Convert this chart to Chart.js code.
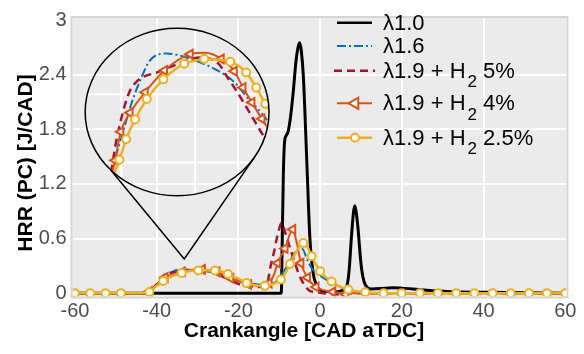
<!DOCTYPE html>
<html>
<head>
<meta charset="utf-8">
<script src="https://cdn.jsdelivr.net/npm/chart.js@4.4.1/dist/chart.umd.min.js"></script>
<style>
html, body { margin: 0; padding: 0; background: #fff; }
#wrap { width: 584px; height: 354px; }
</style>
</head>
<body>
<div id="wrap"><canvas id="hrrChart" width="584" height="354"></canvas></div>
<script>
// crank angle [CAD aTDC] / HRR [J/CAD]
const lam10X = [-60, -9.5, -9.3, -9.0, -8.7, -8.3, -7.8, -7.2, -6.6, -5.9, -5.4, -5.0, -4.6, -4.1, -3.3, -2.5, -1.7, -0.9, 0, 2.0, 4.0, 5.5, 6.5, 7.1, 7.7, 8.2, 8.5, 8.8, 9.3, 9.8, 10.2, 10.8, 11.6, 12.5, 15.0, 17.5, 20.0, 24.0, 28.0, 32.0, 40.0, 50.0, 60.0];
const lam10Y = [0, 0, 0.5, 1.3, 1.66, 1.73, 1.78, 1.95, 2.2, 2.55, 2.7, 2.75, 2.66, 2.38, 1.5, 0.6, 0.22, 0.09, 0.035, 0.018, 0.014, 0.03, 0.07, 0.25, 0.64, 0.9, 0.96, 0.9, 0.7, 0.42, 0.25, 0.12, 0.06, 0.045, 0.05, 0.06, 0.055, 0.04, 0.025, 0.015, 0.01, 0.005, 0];

const lam16X = [-60, -42.5, -41.3, -40.16, -38.9, -37.72, -36.5, -35.49, -33.45, -31.01, -27.77, -25.33, -23.29, -21.67, -20, -18, -16, -14, -12.5, -11, -9.5, -8, -7, -6, -4.8, -4.2, -3.1, -1.5, 0, 1.8, 3.5, 5.1, 7, 9, 12, 15, 60];
const lam16Y = [0, 0, 0.03, 0.088, 0.14, 0.188, 0.226, 0.25, 0.26, 0.254, 0.238, 0.219, 0.19, 0.169, 0.14, 0.115, 0.1, 0.09, 0.1, 0.12, 0.2, 0.3, 0.38, 0.46, 0.49, 0.48, 0.36, 0.24, 0.19, 0.14, 0.1, 0.065, 0.035, 0.015, 0.003, 0, 0];

const h5X = [-60, -42, -41, -40.16, -39.55, -38.13, -37.1, -34.48, -33.05, -29.39, -27.16, -26.13, -24.91, -23.7, -22.68, -21.26, -20, -18, -16, -14, -13, -12.1, -11.3, -10.5, -9.4, -8.5, -7.6, -6.5, -5.3, -4, -2.7, -1.4, 0, 2, 4, 6, 8, 60];
const h5Y = [0, 0, 0.04, 0.092, 0.135, 0.2, 0.219, 0.233, 0.24, 0.254, 0.245, 0.226, 0.204, 0.18, 0.159, 0.13, 0.1, 0.08, 0.068, 0.07, 0.1, 0.3, 0.45, 0.62, 0.77, 0.66, 0.53, 0.38, 0.22, 0.1, 0.03, 0.012, 0.005, -0.008, -0.012, -0.008, 0, 0];

const h4X = [-60, -56.25, -52.5, -48.75, -44, -41.8, -40.6, -39.76, -39.06, -37.93, -36.1, -33.74, -30.61, -28.8, -26.83, -25.24, -24.18, -23.09, -21.87, -20, -17.5, -15, -14, -12.5, -11.3, -10.4, -8.6, -6.7, -5.7, -4.7, -3.1, -1.0, 1.0, 3.1, 5.0, 6.3, 7.9, 11.05, 15.5, 19.95, 24.4, 28.85, 33.3, 37.75, 42.2, 46.65, 51.1, 55.55, 60];
const h4Y = [0, 0, 0, 0, 0, 0.02, 0.06, 0.103, 0.145, 0.173, 0.203, 0.235, 0.259, 0.261, 0.252, 0.234, 0.21, 0.188, 0.164, 0.13, 0.095, 0.078, 0.076, 0.11, 0.2, 0.33, 0.49, 0.70, 0.55, 0.33, 0.17, 0.067, 0.03, 0.014, 0, -0.015, 0, 0, 0, 0, 0, 0, 0, 0, 0, 0, 0, 0, 0];
const h4MarkMain = [-41.8, -37.93, -33.74, -28.8, -25.24, -21.87, -17.5, -12.5, -10.4, -8.6, -6.7, -4.7, -3.1, -1.0, 3.1, 6.3];
const h4MarkInset = [-39.76, -39.06, -37.93, -36.1, -33.74, -30.61, -26.83, -25.24, -24.18, -23.09, -21.87];

const h25X = [-60, -56.25, -52.5, -48.75, -44, -41.8, -40.6, -39.23, -38.41, -37.32, -35.89, -33.87, -31.34, -29.8, -28.9, -25.73, -23.78, -22.56, -21.46, -20, -18.0, -15.5, -13.5, -11.5, -9.6, -8.5, -7.4, -5.5, -4.1, -3.0, -2.1, 0.0, 1.5, 2.8, 5.0, 6.9, 9.0, 11.05, 15.5, 19.95, 24.4, 28.85, 33.3, 37.75, 42.2, 46.65, 51.1, 55.55, 60];
const h25Y = [0, 0, 0, 0, 0, 0.012, 0.06, 0.104, 0.134, 0.163, 0.193, 0.222, 0.245, 0.25, 0.252, 0.248, 0.232, 0.21, 0.186, 0.16, 0.11, 0.085, 0.08, 0.1, 0.15, 0.22, 0.32, 0.48, 0.55, 0.5, 0.405, 0.24, 0.17, 0.128, 0.07, 0.039, 0.02, 0.01, 0, 0, 0, 0, 0, 0, 0, 0, 0, 0, 0];
const h25MarkMain = [-60, -56.25, -52.5, -48.75, -41.8, -38.41, -33.87, -29.8, -25.73, -22.56, -18.0, -13.5, -9.6, -7.4, -4.1, -2.1, 0.0, 2.8, 6.9, 11.05, 15.5, 19.95, 24.4, 28.85, 33.3, 37.75, 42.2, 46.65, 51.1, 55.55, 60];
const h25MarkInset = [-39.23, -38.41, -37.32, -35.89, -33.87, -31.34, -28.9, -25.73, -23.78, -22.56, -21.46];

const xTicks = [-60, -40, -20, 0, 20, 40, 60];
const yTicks = [0, 0.6, 1.2, 1.8, 2.4, 3];

// zoom lens (main axis units) and the window it magnifies
const LENS = { cx: -35.0, cy: 1.99, rx: 22.5, ry: 0.92, tipX: -33.25, tipY: 0.376 };
const ZOOM_X = [-43.4, -21.0];
const ZOOM_Y = [0.051, 0.297];
const zoomGridX = [-39, -30];
const zoomGridY = [0.1, 0.2];

const X_MIN = -60.6, X_MAX = 60.3, Y_MIN = -0.037, Y_MAX = 3.023;
const FONT = '"Liberation Sans", Arial, Helvetica, sans-serif';

function lensRange(lo, hi, min, max, win) {
    const f0 = (lo - min) / (max - min), f1 = (hi - min) / (max - min);
    const span = (win[1] - win[0]) / (f1 - f0);
    const start = win[0] - f0 * span;
    return [start, start + span];
}
const xiRange = lensRange(LENS.cx - LENS.rx, LENS.cx + LENS.rx, X_MIN, X_MAX, ZOOM_X);
const yiRange = lensRange(LENS.cy - LENS.ry, LENS.cy + LENS.ry, Y_MIN, Y_MAX, ZOOM_Y);

const pts = (xs, ys) => xs.map((x, i) => ({ x, y: ys[i] }));
const radii = (xs, marks, r) => xs.map(x => marks.includes(x) ? r : 0);

const series = [
    { label: 'λ1.0', xs: lam10X, ys: lam10Y, color: '#000000', dash: [], width: 3 },
    { label: 'λ1.6', xs: lam16X, ys: lam16Y, color: '#0072BD', dash: [9, 3, 2, 3], width: 2, inset: true },
    { label: 'λ1.9 + H', sub: '2', tail: ' 5%', xs: h5X, ys: h5Y, color: '#A2142F', dash: [8, 5], width: 2.5, inset: true },
    { label: 'λ1.9 + H', sub: '2', tail: ' 4%', xs: h4X, ys: h4Y, color: '#D95319', dash: [], width: 2, inset: true,
      marker: 'triangle', rot: -90, r: 5, main: h4MarkMain, zoom: h4MarkInset },
    { label: 'λ1.9 + H', sub: '2', tail: ' 2.5%', xs: h25X, ys: h25Y, color: '#EDB120', dash: [], width: 2.5, inset: true,
      marker: 'circle', rot: 0, r: 4, main: h25MarkMain, zoom: h25MarkInset }
];

function makeSet(s, i, inset) {
    return {
        data: pts(s.xs, s.ys),
        xAxisID: inset ? 'xi' : 'x',
        yAxisID: inset ? 'yi' : 'y',
        isInset: inset,
        borderColor: s.color,
        borderWidth: s.width,
        borderDash: s.dash,
        borderCapStyle: 'butt',
        cubicInterpolationMode: 'monotone',
        fill: false,
        pointStyle: s.marker || 'circle',
        pointRotation: s.rot || 0,
        pointRadius: s.marker ? radii(s.xs, inset ? s.zoom : s.main, s.r) : 0,
        pointBackgroundColor: '#ffffff',
        pointBorderColor: s.color,
        pointBorderWidth: 2,
        order: (inset ? -10 : 0) + (series.length - 1 - i)
    };
}

const datasets = series.map((s, i) => makeSet(s, i, false))
    .concat(series.map((s, i) => s.inset ? makeSet(s, i, true) : null).filter(Boolean));

function lensPath(chart) {
    const xs = chart.scales.x, ys = chart.scales.y;
    const cx = xs.getPixelForValue(LENS.cx), cy = ys.getPixelForValue(LENS.cy);
    const rx = xs.getPixelForValue(LENS.cx + LENS.rx) - cx;
    const ry = cy - ys.getPixelForValue(LENS.cy + LENS.ry);
    return { cx, cy, rx, ry };
}

const decor = {
    id: 'decor',
    beforeDraw(chart) {
        const { ctx, chartArea: a } = chart;
        ctx.save();
        ctx.fillStyle = '#ffffff';
        ctx.fillRect(0, 0, chart.width, chart.height);
        ctx.fillStyle = '#ebebeb';
        ctx.fillRect(a.left, a.top, a.right - a.left, a.bottom - a.top);
        ctx.restore();
    },
    beforeDatasetsDraw(chart) {
        const { ctx } = chart;
        const L = lensPath(chart);
        ctx.save();
        ctx.beginPath();
        ctx.ellipse(L.cx, L.cy, L.rx, L.ry, 0, 0, Math.PI * 2);
        ctx.clip();
        ctx.strokeStyle = '#ffffff';
        ctx.lineWidth = 2;
        zoomGridX.forEach(v => {
            const p = chart.scales.xi.getPixelForValue(v);
            ctx.beginPath(); ctx.moveTo(p, L.cy - L.ry); ctx.lineTo(p, L.cy + L.ry); ctx.stroke();
        });
        zoomGridY.forEach(v => {
            const p = chart.scales.yi.getPixelForValue(v);
            ctx.beginPath(); ctx.moveTo(L.cx - L.rx, p); ctx.lineTo(L.cx + L.rx, p); ctx.stroke();
        });
        ctx.restore();
    },
    beforeDatasetDraw(chart, args) {
        if (!args.meta._dataset.isInset) return;
        const L = lensPath(chart);
        chart.ctx.save();
        chart.ctx.beginPath();
        chart.ctx.ellipse(L.cx, L.cy, L.rx, L.ry, 0, 0, Math.PI * 2);
        chart.ctx.clip();
    },
    afterDatasetDraw(chart, args) {
        if (args.meta._dataset.isInset) chart.ctx.restore();
    },
    afterDatasetsDraw(chart) {
        const { ctx } = chart;
        const L = lensPath(chart);
        const tx = chart.scales.x.getPixelForValue(LENS.tipX);
        const ty = chart.scales.y.getPixelForValue(LENS.tipY);
        ctx.save();
        ctx.strokeStyle = '#000';
        ctx.lineWidth = 1.5;
        ctx.beginPath();
        ctx.ellipse(L.cx, L.cy, L.rx, L.ry, 0, 0, Math.PI * 2);
        ctx.stroke();
        const a1 = 136.4 * Math.PI / 180, a2 = 32 * Math.PI / 180;
        ctx.beginPath();
        ctx.moveTo(L.cx + L.rx * Math.cos(a1), L.cy + L.ry * Math.sin(a1));
        ctx.lineTo(tx, ty);
        ctx.lineTo(L.cx + L.rx * Math.cos(a2), L.cy + L.ry * Math.sin(a2));
        ctx.stroke();
        ctx.restore();
    },
    afterDraw(chart) {
        const { ctx, chartArea: a } = chart;
        ctx.save();
        // plot frame
        ctx.strokeStyle = '#d6d6d6';
        ctx.lineWidth = 2;
        ctx.strokeRect(a.left - 1, a.top - 1, a.right - a.left + 2, a.bottom - a.top + 2);

        // axis titles
        ctx.fillStyle = '#000';
        ctx.font = 'bold 21px ' + FONT;
        ctx.textAlign = 'center';
        ctx.textBaseline = 'middle';
        ctx.fillText('Crankangle [CAD aTDC]', 304, 331);
        ctx.translate(26, 163);
        ctx.rotate(-Math.PI / 2);
        ctx.fillText('HRR (PC) [J/CAD]', 0, 0);
        ctx.restore();

        // legend
        const rows = [22.7, 46, 70.7, 103.3, 137.7];
        ctx.save();
        ctx.textAlign = 'left';
        ctx.textBaseline = 'middle';
        series.forEach((s, i) => {
            const y = rows[i];
            ctx.strokeStyle = s.color;
            ctx.lineWidth = Math.min(s.width, 2.5);
            ctx.setLineDash(s.dash);
            ctx.beginPath();
            ctx.moveTo(s.dash.length === 2 ? 334 : 337, y);
            ctx.lineTo(s.dash.length === 2 ? 375 : 372, y);
            ctx.stroke();
            ctx.setLineDash([]);
            if (s.marker) {
                ctx.fillStyle = '#fff';
                ctx.lineWidth = 2;
                ctx.beginPath();
                if (s.marker === 'circle') {
                    ctx.arc(355, y, s.r, 0, Math.PI * 2);
                } else {
                    const r = 6.5;
                    ctx.moveTo(355 - r, y);
                    ctx.lineTo(355 + r * 0.5, y - r * 0.866);
                    ctx.lineTo(355 + r * 0.5, y + r * 0.866);
                    ctx.closePath();
                }
                ctx.fill();
                ctx.stroke();
            }
            ctx.fillStyle = '#000';
            ctx.font = '22px ' + FONT;
            let x = 383;
            ctx.fillText(s.label, x, y + 1);
            if (s.sub) {
                x += ctx.measureText(s.label).width + 2;
                ctx.font = '17px ' + FONT;
                ctx.fillText(s.sub, x, y + 12);
                x += ctx.measureText(s.sub).width;
                ctx.font = '22px ' + FONT;
                ctx.fillText(s.tail, x, y + 1);
            }
        });
        ctx.restore();
    }
};

const edgeGrid = ctx => (ctx.tick && (ctx.tick.value === xTicks[0] || ctx.tick.value === xTicks[xTicks.length - 1])) ? 'rgba(0,0,0,0)' : '#ffffff';
const edgeGridY = ctx => (ctx.tick && (ctx.tick.value === yTicks[0] || ctx.tick.value === yTicks[yTicks.length - 1])) ? 'rgba(0,0,0,0)' : '#ffffff';

new Chart(document.getElementById('hrrChart').getContext('2d'), {
    type: 'line',
    data: { datasets },
    plugins: [decor],
    options: {
        responsive: false,
        animation: false,
        devicePixelRatio: 1,
        events: [],
        layout: { padding: { left: 0, right: 17.5, top: 9.5, bottom: 0 } },
        plugins: { legend: { display: false }, tooltip: { enabled: false } },
        scales: {
            x: {
                type: 'linear', min: X_MIN, max: X_MAX,
                afterBuildTicks: s => { s.ticks = xTicks.map(v => ({ value: v })); },
                afterFit: s => { s.height = 57.5; },
                grid: { color: edgeGrid, lineWidth: 2, drawTicks: false },
                border: { display: false },
                ticks: { color: '#4d4d4d', font: { family: FONT, size: 20 }, padding: 3, maxRotation: 0, autoSkip: false,
                         callback: v => String(v) }
            },
            y: {
                type: 'linear', min: Y_MIN, max: Y_MAX,
                afterBuildTicks: s => { s.ticks = yTicks.map(v => ({ value: v })); },
                afterFit: s => { s.width = 72.5; },
                grid: { color: edgeGridY, lineWidth: 2, drawTicks: false },
                border: { display: false },
                ticks: { color: '#4d4d4d', font: { family: FONT, size: 20 }, padding: 6, autoSkip: false,
                         callback: v => String(v) }
            },
            xi: { type: 'linear', display: false, min: xiRange[0], max: xiRange[1] },
            yi: { type: 'linear', display: false, min: yiRange[0], max: yiRange[1] }
        }
    }
});
</script>
</body>
</html>
